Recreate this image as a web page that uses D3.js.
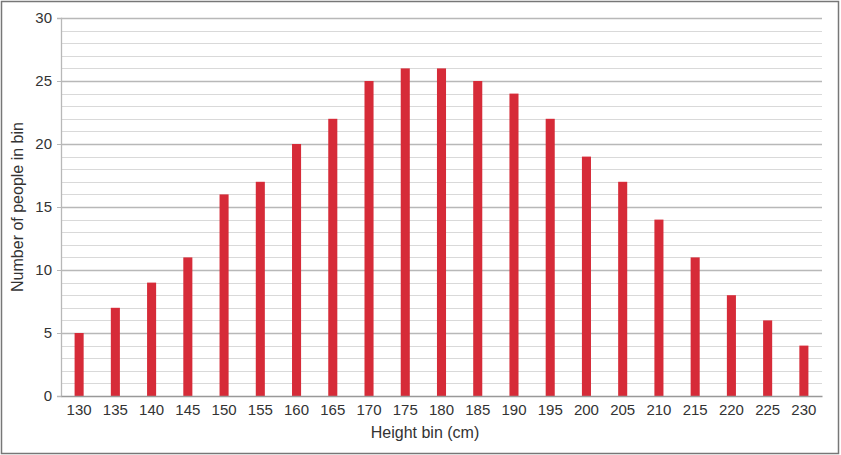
<!DOCTYPE html>
<html><head><meta charset="utf-8">
<script src="https://cdn.jsdelivr.net/npm/d3@7"></script>
<style>body{margin:0;background:#fff}svg{display:block}</style>
</head><body>
<script>
const categories = ["130","135","140","145","150","155","160","165","170","175","180","185","190","195","200","205","210","215","220","225","230"];
const values = [5,7,9,11,16,17,20,22,25,26,26,25,24,22,19,17,14,11,8,6,4];
const yTicks = [0,5,10,15,20,25,30];
const xTitle = "Height bin (cm)";
const yTitle = "Number of people in bin";

const W = 841, H = 455;
const m = {left: 61, right: 19, top: 18, bottom: 59};
const FONT = "Liberation Sans, Arial, sans-serif";
const svg = d3.select("body").append("svg").attr("width", W).attr("height", H);
svg.append("rect").attr("x",1.5).attr("y",1.5).attr("width",W-4).attr("height",H-3)
  .attr("fill","#fff").attr("stroke","#777").attr("stroke-width",1.5);

const x = d3.scaleBand().domain(categories).range([m.left, W-m.right]).paddingInner(0.75).paddingOuter(0.375);
const y = d3.scaleLinear().domain([0,30]).range([H-m.bottom, m.top]);

const g = svg.append("g");
g.selectAll("line.minor").data(d3.range(1,31).filter(v=>v%5!==0)).join("line")
  .attr("x1", m.left).attr("x2", W-m.right)
  .attr("y1", d=>Math.round(y(d))+0.5).attr("y2", d=>Math.round(y(d))+0.5)
  .attr("stroke","#d9d9d9").attr("stroke-width",1);
g.selectAll("line.major").data(yTicks.filter(v=>v>0)).join("line")
  .attr("x1", m.left).attr("x2", W-m.right)
  .attr("y1", d=>Math.round(y(d))+0.5).attr("y2", d=>Math.round(y(d))+0.5)
  .attr("stroke","#b8b8b8").attr("stroke-width",1.3);

g.selectAll("rect.bar").data(values).join("rect")
  .attr("x",(d,i)=>x(categories[i])).attr("width",x.bandwidth())
  .attr("y",d=>y(d)).attr("height",d=>y(0)-y(d)).attr("fill","#d62b38");

const ya = svg.append("g").attr("transform",`translate(${m.left},0)`)
  .call(d3.axisLeft(y).tickValues(yTicks).tickSize(4).tickPadding(5));
ya.select(".domain").attr("stroke","#b8b8b8").attr("stroke-width",1.3);
ya.selectAll(".tick line").attr("stroke","#b8b8b8");
ya.selectAll("text").attr("font-family",FONT).attr("font-size",15).attr("fill","#333");

const xa = svg.append("g").attr("transform",`translate(0,${y(0)})`)
  .call(d3.axisBottom(x).tickSize(0).tickPadding(8));
xa.select(".domain").attr("stroke","#999").attr("stroke-width",1.3);
xa.selectAll("text").attr("font-family",FONT).attr("font-size",15).attr("fill","#333");

svg.append("text").attr("x",425).attr("y",438).attr("text-anchor","middle")
  .attr("font-family",FONT).attr("font-size",16).attr("fill","#333").text(xTitle);
svg.append("text").attr("transform",`translate(23,207) rotate(-90)`).attr("text-anchor","middle")
  .attr("font-family",FONT).attr("font-size",16).attr("fill","#333").text(yTitle);
</script>
</body></html>
